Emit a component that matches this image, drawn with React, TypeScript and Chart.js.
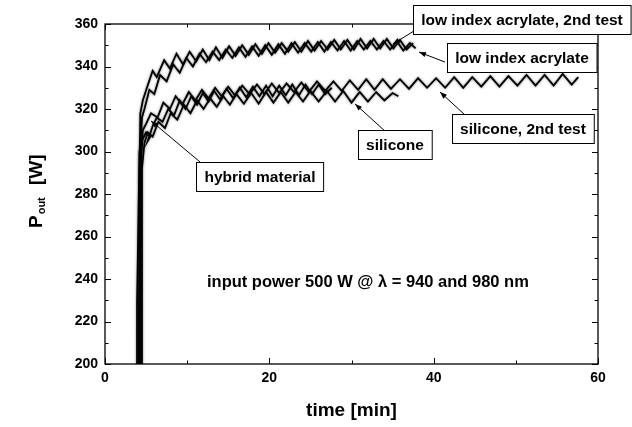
import React, { useEffect, useRef } from 'react';
import { Chart, registerables } from 'chart.js';

Chart.register(...registerables);

const FONT = '"Liberation Sans", Arial, Helvetica, sans-serif';

// axis ticks
const xTickValues = [0, 20, 40, 60];
const xMinorTicks = [10, 30, 50];
const yTickValues = [200, 220, 240, 260, 280, 300, 320, 340, 360];
const yMinorTicks = [210, 230, 250, 270, 290, 310, 330, 350];

// series: [time (min), P_out (W)]
const lowIndexAcrylate2nd: [number, number][] = [
  [4.1, 200], [4.2, 290], [4.3, 318], [4.6, 324], [5.1, 330], [5.8, 338], [6.3, 335], [7.2, 343],
  [7.9, 339], [8.7, 346], [9.5, 341], [10.3, 347], [11.1, 342.5], [11.9, 348], [12.7, 343], [13.5, 349],
  [14.3, 344], [15.1, 349.5], [15.9, 345], [16.7, 350], [17.5, 345.5], [18.3, 350.5], [19.1, 346], [19.9, 351],
  [20.7, 346.5], [21.5, 351], [22.3, 347], [23.1, 351.5], [23.9, 347], [24.7, 352], [25.5, 347.5], [26.3, 352],
  [27.1, 348], [27.9, 352.5], [28.7, 348], [29.5, 352.5], [30.3, 348], [31.1, 353], [31.9, 348.5], [32.7, 353],
  [33.5, 348.5], [34.3, 353], [35.1, 348.5], [35.9, 352.5], [36.7, 348], [37.5, 351],
];

const lowIndexAcrylate: [number, number][] = [
  [4.2, 200], [4.3, 300], [4.5, 316], [4.8, 320], [5.4, 329], [6.0, 327], [6.7, 336], [7.5, 333],
  [8.3, 341], [9.1, 337], [9.9, 344], [10.7, 340], [11.5, 346], [12.3, 342], [13.1, 347], [13.9, 343],
  [14.7, 348], [15.5, 344], [16.3, 349], [17.1, 344.5], [17.9, 349.5], [18.7, 345], [19.5, 350], [20.3, 345.5],
  [21.1, 350.5], [21.9, 346], [22.7, 351], [23.5, 346.5], [24.3, 351], [25.1, 347], [25.9, 351.5], [26.7, 347],
  [27.5, 351.5], [28.3, 347.5], [29.1, 352], [29.9, 347.5], [30.7, 352], [31.5, 348], [32.3, 352], [33.1, 348],
  [33.9, 352], [34.7, 348], [35.5, 352], [36.3, 347.5], [37.1, 351], [37.8, 348.5],
];

const silicone2nd: [number, number][] = [
  [4.3, 200], [4.4, 295], [4.6, 310], [5.0, 313], [5.6, 318], [6.4, 316], [7.1, 323], [7.9, 320],
  [8.6, 326], [9.4, 322], [10.2, 328], [11.0, 324], [11.8, 329], [12.6, 325], [13.4, 330], [14.2, 326],
  [15.0, 330.5], [15.8, 326.5], [16.7, 331], [17.6, 327], [18.5, 331.5], [19.4, 327], [20.3, 332], [21.2, 327.5],
  [22.1, 332], [23.0, 328], [23.9, 332.5], [24.8, 328], [25.8, 333], [26.8, 328.5], [27.8, 333], [28.8, 328.5],
  [29.8, 333.5], [30.8, 329], [31.8, 334], [32.8, 329], [33.8, 334], [34.8, 329.5], [35.9, 334], [37.0, 329.5],
  [38.1, 334.5], [39.2, 330], [40.3, 334.5], [41.4, 330], [42.5, 335], [43.6, 330], [44.7, 335], [45.8, 330.5],
  [46.9, 335.5], [48.0, 330.5], [49.1, 335.5], [50.2, 331], [51.3, 336], [52.4, 331], [53.5, 336], [54.6, 331],
  [55.7, 336.5], [56.8, 331.5], [57.6, 335],
];

const silicone: [number, number][] = [
  [4.4, 200], [4.5, 292], [4.8, 304], [5.2, 309], [5.8, 307], [6.5, 314], [7.3, 311], [8.0, 318],
  [8.8, 315], [9.6, 322], [10.4, 318], [11.2, 324], [12.0, 320], [12.8, 325], [13.6, 321], [14.4, 326],
  [15.2, 322], [16.0, 327], [16.9, 322.5], [17.8, 327.5], [18.7, 322.5], [19.6, 328], [20.5, 323], [21.4, 328],
  [22.3, 323], [23.2, 328], [24.1, 323.5], [25.0, 328.5], [26.0, 323.5], [27.0, 328.5], [28.0, 323.5], [29.0, 328.5],
  [30.0, 323], [31.0, 328], [32.0, 323.5], [33.0, 328], [34.0, 324], [35.0, 327.5], [35.7, 326],
];

const hybridMaterial: [number, number][] = [
  [3.9, 200], [3.9, 228], [4.2, 300], [4.6, 306], [5.0, 309], [5.5, 307], [5.2, 305], [5.8, 312],
  [6.3, 316], [7.0, 314], [7.7, 320], [8.4, 317], [9.1, 324], [9.8, 320], [10.5, 326], [11.2, 322],
  [11.9, 327.5], [12.6, 323.5], [13.3, 328.5], [14.0, 324.5], [14.8, 329.5], [15.6, 325], [16.4, 330], [17.2, 325.5],
  [18.0, 330.5], [18.8, 326], [19.6, 331], [20.4, 326], [21.2, 331], [22.0, 326.5], [22.8, 331.5], [23.6, 326.5],
  [24.4, 331.5], [25.2, 327], [26.0, 331.5], [26.8, 327], [27.6, 330],
];

const seriesNames = ['hybrid material', 'silicone', 'silicone, 2nd test', 'low index acrylate', 'low index acrylate, 2nd test'];
const seriesData = [hybridMaterial, silicone, silicone2nd, lowIndexAcrylate, lowIndexAcrylate2nd];

// labels: text, box centre (data), arrow start (data), arrow tip (data)
const labelTexts = ['low index acrylate, 2nd test', 'low index acrylate', 'silicone, 2nd test', 'silicone', 'hybrid material'];
const labelCentres: [number, number][] = [[50.75, 361.9], [50.75, 344], [50.87, 310.6], [35.29, 303.1], [18.86, 288]];
const arrowStarts: [number, number][] = [[37.6, 356.7], [41.38, 342.1], [43.81, 317.2], [34.08, 309.6], [11.56, 295.1]];
const arrowTips: [number, number][] = [[35.05, 350.6], [38.21, 346.8], [40.77, 328], [30.43, 322.4], [5.6, 314.4]];

const noteText = 'input power 500 W @ \u03bb = 940 and 980 nm';
const notePos: [number, number] = [12.41, 238.2];

const xTitle = 'time [min]';

const fuzzPlugin = {
  id: 'fuzz',
  beforeDatasetsDraw(chart: any) {
    chart.ctx.save();
    chart.ctx.shadowColor = 'rgba(0,0,0,0.55)';
    chart.ctx.shadowBlur = 2.5;
  },
  afterDatasetsDraw(chart: any) {
    chart.ctx.restore();
  },
};

const decorPlugin = {
  id: 'decor',
  afterDatasetsDraw(chart: any) {
    const { ctx, chartArea: a, scales } = chart;
    const xs = scales.x;
    const ys = scales.y;
    ctx.save();
    ctx.shadowBlur = 0;
    ctx.shadowColor = 'transparent';
    // frame
    ctx.strokeStyle = '#000';
    ctx.lineWidth = 1.3;
    ctx.strokeRect(a.left, a.top, a.right - a.left, a.bottom - a.top);
    ctx.lineWidth = 1;
    const tick = (vals: number[], len: number) => {
      vals.forEach((v) => {
        const px = Math.round(xs.getPixelForValue(v)) + 0.5;
        ctx.beginPath();
        ctx.moveTo(px, a.bottom);
        ctx.lineTo(px, a.bottom - len);
        ctx.moveTo(px, a.top);
        ctx.lineTo(px, a.top + len);
        ctx.stroke();
      });
    };
    const tickY = (vals: number[], len: number) => {
      vals.forEach((v) => {
        const py = Math.round(ys.getPixelForValue(v)) + 0.5;
        ctx.beginPath();
        ctx.moveTo(a.left, py);
        ctx.lineTo(a.left + len, py);
        ctx.moveTo(a.right, py);
        ctx.lineTo(a.right - len, py);
        ctx.stroke();
      });
    };
    tick(xTickValues, 6);
    tick(xMinorTicks, 3.5);
    tickY(yTickValues, 6);
    tickY(yMinorTicks, 3.5);

    // arrows
    const arrow = (x1: number, y1: number, x2: number, y2: number) => {
      ctx.strokeStyle = '#000';
      ctx.fillStyle = '#000';
      ctx.lineWidth = 1;
      ctx.beginPath();
      ctx.moveTo(x1, y1);
      ctx.lineTo(x2, y2);
      ctx.stroke();
      const ang = Math.atan2(y2 - y1, x2 - x1);
      const L = 7;
      const W = 2.6;
      ctx.beginPath();
      ctx.moveTo(x2, y2);
      ctx.lineTo(x2 - L * Math.cos(ang) + W * Math.sin(ang), y2 - L * Math.sin(ang) - W * Math.cos(ang));
      ctx.lineTo(x2 - L * Math.cos(ang) - W * Math.sin(ang), y2 - L * Math.sin(ang) + W * Math.cos(ang));
      ctx.closePath();
      ctx.fill();
    };
    labelTexts.forEach((_, i) => {
      arrow(
        xs.getPixelForValue(arrowStarts[i][0]), ys.getPixelForValue(arrowStarts[i][1]),
        xs.getPixelForValue(arrowTips[i][0]), ys.getPixelForValue(arrowTips[i][1])
      );
    });

    // boxes
    ctx.font = `bold 15.5px ${FONT}`;
    ctx.textAlign = 'center';
    ctx.textBaseline = 'middle';
    labelTexts.forEach((t, i) => {
      const cx = xs.getPixelForValue(labelCentres[i][0]);
      const cy = ys.getPixelForValue(labelCentres[i][1]);
      const w = ctx.measureText(t).width + 16;
      const h = 29;
      const bx = Math.round(cx - w / 2) + 0.5;
      const by = Math.round(cy - h / 2) + 0.5;
      ctx.fillStyle = '#fff';
      ctx.fillRect(bx, by, w, h);
      ctx.strokeStyle = '#000';
      ctx.lineWidth = 1;
      ctx.strokeRect(bx, by, w, h);
      ctx.fillStyle = '#000';
      ctx.fillText(t, cx, cy + 1);
    });

    // note
    ctx.font = `bold 16.5px ${FONT}`;
    ctx.textAlign = 'left';
    ctx.fillText(noteText, xs.getPixelForValue(notePos[0]), ys.getPixelForValue(notePos[1]));

    // x title
    ctx.textAlign = 'center';
    ctx.font = `bold 19px ${FONT}`;
    ctx.fillText(xTitle, (a.left + a.right) / 2, 411);

    // y title (rotated) P_out [W]
    ctx.translate(37, 228);
    ctx.rotate(-Math.PI / 2);
    ctx.textAlign = 'left';
    ctx.textBaseline = 'middle';
    ctx.font = `bold 19px ${FONT}`;
    ctx.fillText('P', 0, 0);
    const pw = ctx.measureText('P').width;
    ctx.font = `bold 11px ${FONT}`;
    ctx.fillText('out', pw + 1, 5);
    ctx.font = `bold 19px ${FONT}`;
    ctx.fillText('[W]', 43, 0);
    ctx.restore();
  },
};

export default function App() {
  const ref = useRef<HTMLCanvasElement | null>(null);
  useEffect(() => {
    if (!ref.current) return;
    const chart = new Chart(ref.current, {
      type: 'line',
      data: {
        datasets: seriesData.map((d, i) => ({
          label: seriesNames[i],
          data: d.map(([x, y]) => ({ x, y })),
          borderColor: '#000',
          borderWidth: 1.8,
          pointRadius: 0,
          tension: 0,
          fill: false,
        })),
      },
      options: {
        animation: false,
        responsive: false,
        devicePixelRatio: 1,
        layout: { padding: { left: 0, top: 24, right: 34, bottom: 0 } },
        plugins: { legend: { display: false }, tooltip: { enabled: false } },
        scales: {
          x: {
            type: 'linear',
            min: 0,
            max: 60,
            grid: { display: false, drawTicks: false, tickLength: 0 },
            border: { display: false },
            afterBuildTicks: (s: any) => { s.ticks = xTickValues.map((v) => ({ value: v })); },
            afterFit: (s: any) => { s.height = 63; },
            ticks: { color: '#000', padding: 6, font: { family: FONT, size: 14, weight: 'bold' }, maxRotation: 0 },
          },
          y: {
            type: 'linear',
            min: 200,
            max: 360,
            grid: { display: false, drawTicks: false, tickLength: 0 },
            border: { display: false },
            afterBuildTicks: (s: any) => { s.ticks = yTickValues.map((v) => ({ value: v })); },
            afterFit: (s: any) => { s.width = 105; },
            ticks: { color: '#000', padding: 7, font: { family: FONT, size: 14, weight: 'bold' } },
          },
        },
      },
      plugins: [fuzzPlugin, decorPlugin],
    });
    return () => chart.destroy();
  }, []);
  return (
    <div style={{ position: 'absolute', left: 0, top: 0, width: 632, height: 427, background: '#fff' }}>
      <canvas ref={ref} width={632} height={427} />
    </div>
  );
}
